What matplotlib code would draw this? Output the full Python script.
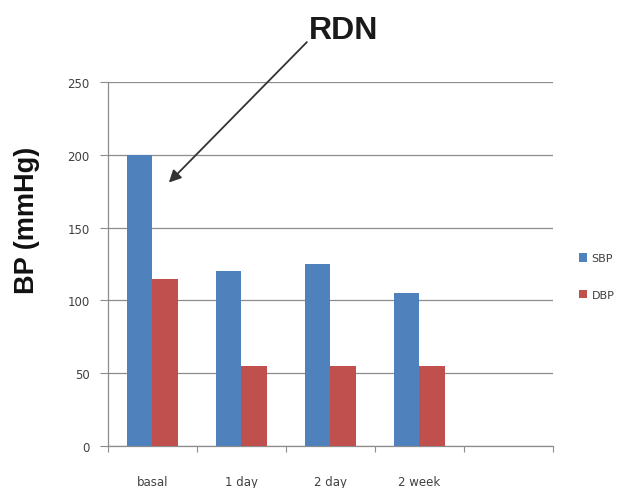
import matplotlib.pyplot as plt
import numpy as np

categories = ['basal', '1 day', '2 day', '2 week', '']
sbp = [200, 120, 125, 105, np.nan]
dbp = [115, 55, 55, 55, np.nan]
y_ticks = [0, 50, 100, 150, 200, 250]

BLUE = '#4F81BD'
RED = '#C0504D'
GRID = '#8c8c8c'
TXT = '#404040'

fig = plt.figure(figsize=(6.2, 4.89), dpi=100)
ax = fig.add_axes([0.174, 0.086, 0.718, 0.744])

x = np.arange(len(categories))
w = 0.29
ax.bar(x - w / 2, sbp, w, color=BLUE, label='SBP', zorder=3)
ax.bar(x + w / 2, dbp, w, color=RED, label='DBP', zorder=3)

ax.set_xlim(-0.5, len(categories) - 0.5)
ax.set_ylim(0, 250)
ax.set_yticks(y_ticks)
ax.set_yticklabels([str(t) for t in y_ticks], fontsize=8.5, color=TXT)
ax.yaxis.grid(True, color=GRID, linewidth=0.9, zorder=0)

# category boundary ticks, labels centered
ax.set_xticks(np.arange(len(categories) + 1) - 0.5)
ax.set_xticklabels([])
ax.set_xticks(x, minor=True)
ax.set_xticklabels(categories, minor=True, fontsize=8.5, color=TXT)
ax.tick_params(axis='x', which='minor', length=0, pad=21)
ax.tick_params(axis='x', which='major', length=4, color=GRID, direction='out')
ax.tick_params(axis='y', length=6, color=GRID, direction='out', pad=7)

for s in ['top', 'right']:
    ax.spines[s].set_visible(False)
for s in ['left', 'bottom']:
    ax.spines[s].set_color(GRID)
    ax.spines[s].set_linewidth(0.9)

ax.set_ylabel('BP (mmHg)', fontsize=19.5, fontweight='bold',
              family=['Liberation Sans', 'DejaVu Sans'], color='#111111')
ax.yaxis.label.set_va('center')
ax.yaxis.set_label_coords(-0.182, 0.624)

# arrow + label
ax.annotate('', xy=(0.185, 181), xytext=(1.735, 277.5), annotation_clip=False,
            arrowprops=dict(arrowstyle='-|>', color='#333333', lw=1.3,
                            mutation_scale=18, shrinkA=0, shrinkB=0))
fig.text(309 / 620, 1 - 39 / 489, 'RDN', fontsize=23, fontweight='bold',
         family=['Liberation Sans', 'DejaVu Sans'], color='#1a1a1a',
         ha='left', va='baseline')

ax.legend(loc='center left', bbox_to_anchor=(0.918, 0.432), bbox_transform=fig.transFigure,
          frameon=False, fontsize=8, handlelength=0.75, handleheight=0.75,
          labelspacing=2.4, handletextpad=0.35, labelcolor=TXT)

fig.savefig('out.png', dpi=100)
